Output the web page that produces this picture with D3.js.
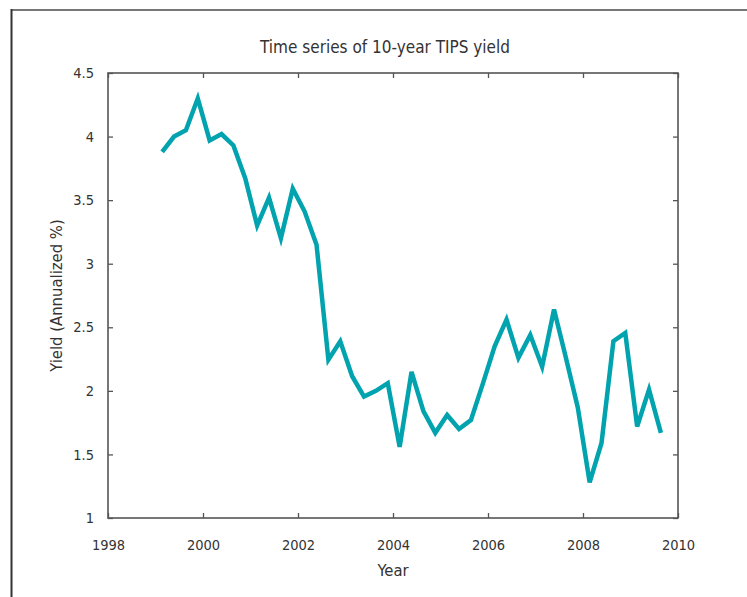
<!DOCTYPE html>
<html>
<head>
<meta charset="utf-8">
<script src="https://cdn.jsdelivr.net/npm/d3@7"></script>
<style>
  body { margin: 0; background: #fff; }
  svg text { font-family: "Liberation Sans Narrow", "DejaVu Sans Condensed", "Roboto", sans-serif; fill: #333; }
</style>
</head>
<body>
<svg id="chart" width="747" height="597"></svg>
<script>
// quarterly observations starting 1999 Q1
const startYear = 1999.14,
    step = 0.25;

const yields = [
  3.88, 4.00, 4.05, 4.30, 3.97, 4.02, 3.93, 3.67, 3.30, 3.52, 3.20, 3.59,
  3.41, 3.15, 2.245, 2.39, 2.115, 1.955, 2.00, 2.06, 1.56, 2.15, 1.84, 1.67,
  1.81, 1.70, 1.77, 2.055, 2.35, 2.56, 2.26, 2.44, 2.19, 2.64, 2.26, 1.87,
  1.28, 1.59, 2.39, 2.455, 1.72, 2.01, 1.67
];

const xTicks = [1998, 2000, 2002, 2004, 2006, 2008, 2010];
const yTicks = [1, 1.5, 2, 2.5, 3, 3.5, 4, 4.5];

const svg = d3.select('#chart'),
    margin = {top: 73, right: 69, bottom: 79, left: 108},
    width = 747 - margin.left - margin.right,
    height = 597 - margin.top - margin.bottom;

// outer panel frame
svg.append('line')
  .attr('x1', 11).attr('x2', 747).attr('y1', 10).attr('y2', 10)
  .attr('stroke', '#777').attr('stroke-width', 2);
svg.append('line')
  .attr('x1', 11.5).attr('x2', 11.5).attr('y1', 9).attr('y2', 597)
  .attr('stroke', '#333').attr('stroke-width', 2);

const g = svg.append('g').attr('transform', `translate(${margin.left},${margin.top})`);

const x = d3.scaleLinear().domain([1998, 2010]).range([0, width]);
const y = d3.scaleLinear().domain([1, 4.5]).range([height, 0]);

const fmtY = d3.format('~g');

const axisStyle = sel => {
  sel.select('.domain').remove();
  sel.selectAll('.tick line').attr('stroke', '#555').attr('stroke-width', 1.3);
  sel.selectAll('.tick text').attr('font-size', 14.5).style('fill', '#333');
};

g.append('g')
  .attr('transform', `translate(0,${height})`)
  .call(d3.axisBottom(x).tickValues(xTicks).tickFormat(d3.format('d')).tickSizeInner(-5).tickSizeOuter(0).tickPadding(22))
  .call(axisStyle);

g.append('g')
  .call(d3.axisTop(x).tickValues(xTicks).tickFormat('').tickSizeInner(-5).tickSizeOuter(0))
  .call(axisStyle);

g.append('g')
  .call(d3.axisLeft(y).tickValues(yTicks).tickFormat(fmtY).tickSizeInner(-5).tickSizeOuter(0).tickPadding(14))
  .call(axisStyle);

g.append('g')
  .attr('transform', `translate(${width},0)`)
  .call(d3.axisRight(y).tickValues(yTicks).tickFormat('').tickSizeInner(-5).tickSizeOuter(0))
  .call(axisStyle);

// plot box
g.append('rect')
  .attr('width', width).attr('height', height)
  .attr('fill', 'none').attr('stroke', '#555').attr('stroke-width', 1.6);

const line = d3.line()
  .x((d, i) => x(startYear + i * step))
  .y(d => y(d));

g.append('path')
  .datum(yields)
  .attr('fill', 'none')
  .attr('stroke', '#00a3ae')
  .attr('stroke-width', 4.5)
  .attr('stroke-linejoin', 'miter')
  .attr('d', line);

svg.append('text')
  .attr('x', 385).attr('y', 53)
  .attr('text-anchor', 'middle')
  .attr('font-size', 17)
  .text('Time series of 10-year TIPS yield');

svg.append('text')
  .attr('x', margin.left + width / 2).attr('y', 576)
  .attr('text-anchor', 'middle')
  .attr('font-size', 16.5)
  .text('Year');

svg.append('text')
  .attr('transform', `translate(62,${margin.top + height / 2}) rotate(-90)`)
  .attr('text-anchor', 'middle')
  .attr('font-size', 16.5)
  .text('Yield (Annualized %)');
</script>
</body>
</html>
